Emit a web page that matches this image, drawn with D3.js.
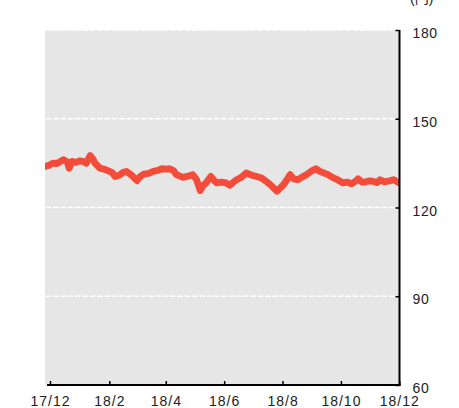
<!DOCTYPE html>
<html>
<head>
<meta charset="utf-8">
<script src="https://cdn.jsdelivr.net/npm/d3@7"></script>
<style>
  html, body { margin: 0; padding: 0; background: #ffffff; }
  svg { display: block; }
  text { font-family: "Liberation Sans", "Noto Sans CJK JP", sans-serif; fill: #222; }
</style>
</head>
<body>
<svg id="chart" width="459" height="408"></svg>
<script>
// ---- data ----
const dates = [
  "2017-11-26","2017-11-30","2017-12-04","2017-12-08","2017-12-12","2017-12-15","2017-12-19","2017-12-21","2017-12-24","2017-12-28",
  "2018-01-01","2018-01-05","2018-01-08","2018-01-12","2018-01-15","2018-01-17","2018-01-22","2018-01-26","2018-01-31","2018-02-04",
  "2018-02-07","2018-02-12","2018-02-15","2018-02-19","2018-02-24","2018-03-02","2018-03-05","2018-03-09","2018-03-14","2018-03-19",
  "2018-03-24","2018-03-28","2018-04-01","2018-04-05","2018-04-09","2018-04-12","2018-04-16","2018-04-19","2018-04-24","2018-04-29",
  "2018-05-03","2018-05-07","2018-05-10","2018-05-13","2018-05-18","2018-05-21","2018-05-24","2018-05-29","2018-06-03","2018-06-07",
  "2018-06-10","2018-06-14","2018-06-19","2018-06-24","2018-06-29","2018-07-05","2018-07-10","2018-07-15","2018-07-20","2018-07-26",
  "2018-08-02","2018-08-06","2018-08-09","2018-08-13","2018-08-17","2018-08-21","2018-08-26","2018-08-31","2018-09-05","2018-09-09",
  "2018-09-13","2018-09-18","2018-09-23","2018-09-28","2018-10-03","2018-10-08","2018-10-12","2018-10-16","2018-10-19","2018-10-23",
  "2018-10-26","2018-10-31","2018-11-04","2018-11-08","2018-11-11","2018-11-15","2018-11-18","2018-11-22","2018-11-25","2018-12-01"
];
const prices = [
  133.9,134.3,135.0,134.8,135.6,136.2,135.4,133.3,135.6,135.2,
  135.8,135.5,135.0,137.6,136.3,135.0,133.3,133.0,132.4,131.8,
  130.5,131.0,131.8,132.2,131.0,129.1,130.4,131.3,131.5,132.2,
  132.6,133.1,133.0,133.1,132.5,131.1,130.6,130.2,130.6,131.1,
  129.5,125.7,127.4,128.3,130.5,129.3,128.3,128.6,128.3,127.5,
  128.4,129.4,130.2,131.7,131.0,130.5,130.0,128.8,127.5,125.5,
  127.7,129.6,131.1,129.6,129.4,130.2,131.1,132.3,133.1,132.2,
  131.7,131.0,130.0,129.3,128.3,128.6,128.0,128.8,129.7,128.6,
  128.6,129.0,128.8,128.4,129.4,128.7,128.8,129.1,129.4,128.3
];
const yTicks = [60, 90, 120, 150, 180];
const gridValues = [90, 120, 150, 180];
const xTickDates = ["2017-12-01","2018-02-01","2018-04-01","2018-06-01","2018-08-01","2018-10-01","2018-12-01"];
const xTickLabels = ["17/12","18/2","18/4","18/6","18/8","18/10","18/12"];
const unitLabel = "(円)";

// ---- layout ----
const plotL = 45, plotR = 399.5, plotT = 30, plotB = 385;
const parse = d3.timeParse("%Y-%m-%d");
const data = dates.map((d, i) => ({ date: parse(d), value: prices[i] }));

const svg = d3.select("#chart");

svg.append("defs").append("clipPath").attr("id", "plotclip")
  .append("rect")
  .attr("x", plotL).attr("y", plotT)
  .attr("width", plotR - plotL).attr("height", plotB - plotT);

const x = d3.scaleTime()
  .domain([parse("2017-12-01"), parse("2018-12-01")])
  .range([50, 399.3]);
const y = d3.scaleLinear().domain([60, 180]).range([plotB, plotT]);

// plot background
svg.append("rect")
  .attr("x", plotL).attr("y", plotT)
  .attr("width", plotR - plotL).attr("height", plotB - plotT)
  .attr("fill", "#e6e6e6");

// gridlines
svg.append("g").selectAll("line").data(gridValues).join("line")
  .attr("x1", plotL + 1).attr("x2", plotR - 5)
  .attr("y1", d => y(d)).attr("y2", d => y(d))
  .attr("stroke", "#ffffff").attr("stroke-width", 1.5)
  .attr("stroke-dasharray", "5.5,1.8");

// line
const line = d3.line().x(d => x(d.date)).y(d => y(d.value)).curve(d3.curveLinear);
svg.append("path")
  .datum(data)
  .attr("clip-path", "url(#plotclip)")
  .attr("d", line)
  .attr("fill", "none")
  .attr("stroke", "#f34c3a")
  .attr("stroke-width", 6.8)
  .attr("stroke-linejoin", "round")
  .attr("stroke-linecap", "round");

// bottom axis
const xAxis = d3.axisBottom(x)
  .tickValues(xTickDates.map(parse))
  .tickSizeInner(-4).tickSizeOuter(0)
  .tickFormat((d, i) => xTickLabels[i]);
const gx = svg.append("g").attr("transform", `translate(0,${plotB})`).call(xAxis);
gx.select(".domain").remove();
gx.selectAll(".tick line").attr("stroke", "#000").attr("stroke-width", 1.5);
gx.selectAll(".tick text")
  .attr("y", 21).attr("dy", 0)
  .style("font-size", "14px")
  .style("letter-spacing", "1px")
  .attr("fill", "#222");
svg.append("line")
  .attr("x1", plotL + 2).attr("x2", plotR + 1)
  .attr("y1", plotB).attr("y2", plotB)
  .attr("stroke", "#000").attr("stroke-width", 2);

// right axis
const yAxis = d3.axisRight(y).tickValues(yTicks).tickSizeInner(-4).tickSizeOuter(0);
const gy = svg.append("g").attr("transform", `translate(${plotR},0)`).call(yAxis);
gy.select(".domain").remove();
gy.selectAll(".tick line").attr("stroke", "#000").attr("stroke-width", 1.5);
gy.selectAll(".tick text")
  .attr("x", 13).attr("dy", "0.55em")
  .attr("text-anchor", "start")
  .style("font-size", "14px")
  .style("letter-spacing", "0.6px")
  .attr("fill", "#222");
svg.append("line")
  .attr("x1", plotR).attr("x2", plotR)
  .attr("y1", plotT).attr("y2", plotB + 1)
  .attr("stroke", "#000").attr("stroke-width", 2);

// unit label (partially cut at top)
svg.append("text")
  .attr("x", 410).attr("y", 3)
  .style("font-size", "14px")
  .text(unitLabel);
</script>
</body>
</html>
